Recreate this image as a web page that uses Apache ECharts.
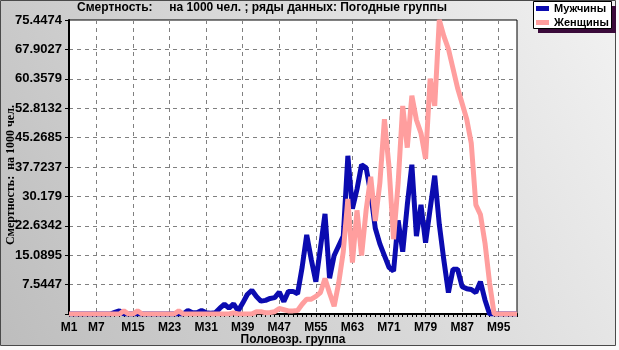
<!DOCTYPE html>
<html>
<head>
<meta charset="utf-8">
<script src="https://cdn.jsdelivr.net/npm/echarts@6/dist/echarts.min.js"></script>
<style>
  html, body { margin: 0; padding: 0; background: #fafafa; }
  #chart { width: 619px; height: 350px; }
</style>
</head>
<body>
<div id="chart"></div>
<script>
// Age groups along the x axis
const categories = [
  'M1','M2','M3','M4','M5','M6','M7','M8','M9','M10',
  'M11','M12','M13','M14','M15','M16','M17','M18','M19','M20',
  'M21','M22','M23','M24','M25','M26','M27','M28','M29','M30',
  'M31','M32','M33','M34','M35','M36','M37','M38','M39','M40',
  'M41','M42','M43','M44','M45','M46','M47','M48','M49','M50',
  'M51','M52','M53','M54','M55','M56','M57','M58','M59','M60',
  'M61','M62','M63','M64','M65','M66','M67','M68','M69','M70',
  'M71','M72','M73','M74','M75','M76','M77','M78','M79','M80',
  'M81','M82','M83','M84','M85','M86','M87','M88','M89','M90',
  'M91','M92','M93','M94','M95','M96','M97','M98','M99'
];

// Deaths per 1000, men
const men = [
  0, 0, 0, 0, 0, 0, 0, 0, 0, 0,
  0.4, 0.8, 0, 0, 0, 0, 0, 0, 0, 0,
  0, 0, 0, 0, 0, 0, 0.9, 0.3, 0.3, 0.9,
  0.3, 0.2, 0.3, 1.5, 2.5, 1.5, 2.6, 0.8, 2.8, 5.0,
  6.1, 4.5, 3.3, 3.5, 4.0, 4.2, 5.6, 3.2, 5.8, 5.8,
  5.2, 12, 20.3, 14, 8.3, 17, 25.7, 9.2, 15, 17.5,
  20, 40.6, 27, 32, 38.3, 37.5, 31, 22, 18, 15,
  12, 11, 24, 16, 28, 38.3, 20, 28, 18.3, 27,
  35.5, 23, 13.8, 5.5, 11.5, 11.5, 7, 6.5, 6.3, 5.5,
  8.3, 3.6, 0, 0, 0, 0, 0, 0, 0
];

// Deaths per 1000, women
const women = [
  0, 0, 0, 0, 0, 0, 0, 0, 0, 0,
  0, 0, 0.8, 0, 0, 0.8, 0, 0, 0, 0,
  0, 0, 0, 0, 0.8, 0, 0, 0, 0, 0,
  0, 0, 0, 0, 0, 0, 0.3, 0, 0, 0,
  0, 0.6, 0.6, 0.3, 0.4, 0.6, 1.4, 1.1, 0.8, 0.8,
  0.9, 2.5, 3.8, 3.8, 4.5, 5.5, 9.1, 5.4, 2, 8,
  16, 29.5, 13.2, 26.6, 15, 26.7, 35.2, 23.9, 33.6, 50,
  37.8, 19.2, 33.6, 53.4, 42.7, 56, 49.8, 46.4, 39.8, 60.4,
  53.4, 75.4474, 71.3, 68, 63, 58, 54, 50, 43.8, 28,
  25.5, 18.2, 8, 0, 0, 0, 0, 0, 0
];

const seriesNames = ['Мужчины', 'Женщины'];

// Value axis: ten equal steps up to the series maximum
const yMax = 75.4474;
const yStep = 7.54474;
const yTickLabels = ['', '7.5447', '15.0895', '22.6342', '30.179', '37.7237',
  '45.2685', '52.8132', '60.3579', '67.9027', '75.4474'];

const titleText = 'Смертность:     на 1000 чел. ; ряды данных: Погодные группы';
const yName = 'Смертность:  на 1000 чел.';
const xName = 'Половозр. группа';

// x labels: first group, then every 8th group starting from M7
const showXLabel = (idx) => idx === 0 || (idx >= 6 && (idx - 6) % 8 === 0);

const SANS = '"Liberation Sans", Arial, sans-serif';
const SERIF = '"Liberation Serif", "Times New Roman", serif';

const chart = echarts.init(document.getElementById('chart'), null, { renderer: 'canvas' });

chart.setOption({
  animation: false,
  backgroundColor: '#fafafa',
  title: {
    text: titleText,
    left: 77,
    top: 2,
    padding: 0,
    textStyle: { fontFamily: SANS, fontSize: 12, fontWeight: 'bold', color: '#000' }
  },
  legend: {
    left: 536,
    top: 1.5,
    orient: 'vertical',
    icon: 'rect',
    itemWidth: 13,
    itemHeight: 5,
    itemGap: 0,
    padding: 0,
    selectedMode: false,
    textStyle: { fontFamily: SANS, fontSize: 11, fontWeight: 'bold', color: '#000', lineHeight: 14 },
    data: seriesNames
  },
  grid: {
    left: 69, top: 20, right: 102, bottom: 36,
    show: true,
    backgroundColor: '#ffffff',
    borderColor: '#000',
    borderWidth: 1
  },
  xAxis: {
    type: 'category',
    data: categories,
    boundaryGap: false,
    axisLine: { lineStyle: { color: '#000', width: 2 } },
    axisTick: { show: true, interval: 0, length: 3, lineStyle: { color: '#000' } },
    axisLabel: {
      interval: showXLabel,
      margin: 8,
      fontFamily: SANS, fontSize: 12, fontWeight: 'bold', color: '#000'
    },
    splitLine: {
      show: true,
      interval: showXLabel,
      lineStyle: { color: '#808080', width: 1, type: [4, 4] }
    }
  },
  yAxis: {
    type: 'value',
    min: 0,
    max: yMax,
    interval: yStep,
    axisLine: { show: true, lineStyle: { color: '#000', width: 2 } },
    axisTick: { show: true, length: 4, lineStyle: { color: '#000' } },
    axisLabel: {
      margin: 7,
      fontFamily: SANS, fontSize: 13, fontWeight: 'bold', color: '#000',
      formatter: (v) => yTickLabels[Math.round(v / yStep)] || ''
    },
    splitLine: { show: true, lineStyle: { color: '#808080', width: 1, type: [4, 4] } }
  },
  graphic: [
    // window frame with soft grey gradient
    {
      type: 'rect', z: -100, silent: true,
      shape: { x: 0.5, y: 0.5, width: 615, height: 345 },
      style: {
        fill: {
          type: 'linear', x: 1, y: 0, x2: 0, y2: 1,
          colorStops: [{ offset: 0, color: '#f2f2f2' }, { offset: 1, color: '#bdbdbd' }]
        },
        stroke: '#4a4a4a', lineWidth: 1
      }
    },
    // legend box shadow and box
    {
      type: 'rect', z: -50, silent: true,
      shape: { x: 538, y: 6, width: 78, height: 27 },
      style: { fill: '#3a0a3a' }
    },
    {
      type: 'rect', z: -40, silent: true,
      shape: { x: 533.5, y: 1.5, width: 78, height: 27 },
      style: { fill: '#ffffff', stroke: '#000', lineWidth: 1 }
    },
    // axis names
    {
      type: 'text', silent: true,
      x: 11, y: 175, rotation: Math.PI / 2,
      style: {
        text: yName, fontFamily: SERIF, fontSize: 12, fontWeight: 'bold', fill: '#000',
        align: 'center', verticalAlign: 'middle'
      }
    },
    {
      type: 'text', silent: true,
      x: 293, y: 340,
      style: {
        text: xName, fontFamily: SANS, fontSize: 12, fontWeight: 'bold', fill: '#000',
        align: 'center', verticalAlign: 'middle'
      }
    }
  ],
  series: [
    {
      name: seriesNames[0],
      type: 'line',
      data: men,
      showSymbol: false,
      symbol: 'none',
      itemStyle: { color: '#0b0bb0' },
      lineStyle: { color: '#0b0bb0', width: 5 }
    },
    {
      name: seriesNames[1],
      type: 'line',
      data: women,
      showSymbol: false,
      symbol: 'none',
      itemStyle: { color: '#ff9e9e' },
      lineStyle: { color: '#ff9e9e', width: 5 }
    }
  ]
});
</script>
</body>
</html>
